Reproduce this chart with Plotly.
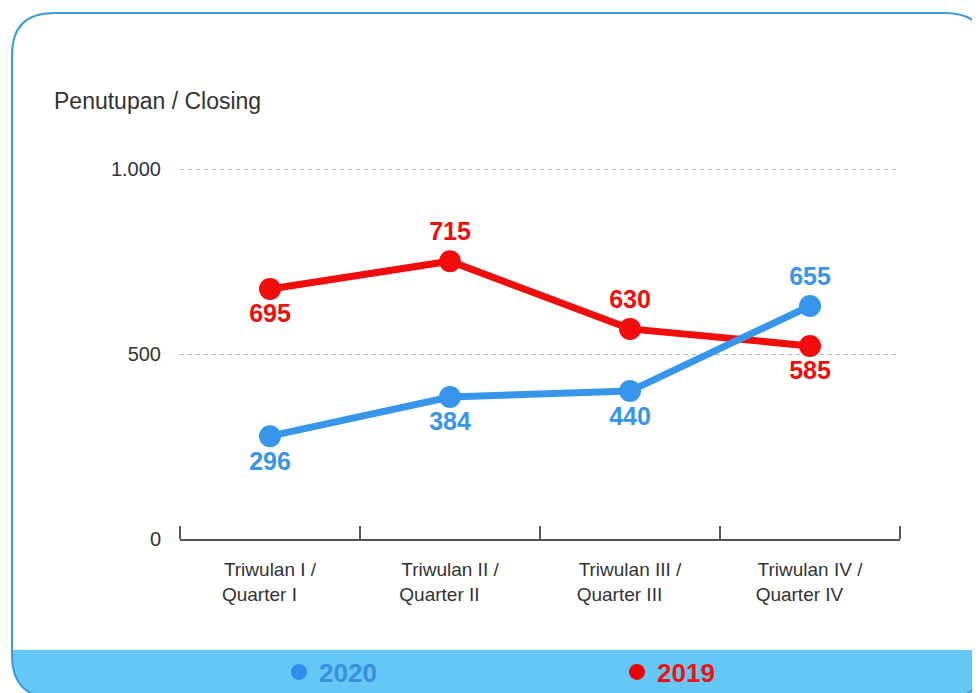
import plotly.graph_objects as go

# ---- data ----
categories = ["Triwulan I /<br>Quarter I", "Triwulan II /<br>Quarter II",
              "Triwulan III /<br>Quarter III", "Triwulan IV /<br>Quarter IV"]
tick_text = ["Triwulan I /<br>Quarter I\u00a0\u00a0\u00a0\u00a0",
             "Triwulan II /<br>Quarter II\u00a0\u00a0\u00a0\u00a0",
             "Triwulan III /<br>Quarter III\u00a0\u00a0\u00a0\u00a0",
             "Triwulan IV /<br>Quarter IV\u00a0\u00a0\u00a0\u00a0"]
# plotted positions
values_2019 = [676, 751, 568, 522]
values_2020 = [278, 384, 400, 630]
# printed data labels
labels_2019 = ["695", "715", "630", "585"]
labels_2020 = ["296", "384", "440", "655"]
pos_2019 = ["bottom center", "top center", "top center", "bottom center"]
pos_2020 = ["bottom center", "bottom center", "bottom center", "top center"]
y_tickvals = [0, 500, 1000]
y_ticktext = ["0", "500", "1.000"]
boundary_ticks = [-0.5, 0.5, 1.5, 2.5, 3.5]

RED = "#f20d0d"
BLUE = "#3896ea"
FONT = "Arial, Liberation Sans, sans-serif"

OFF = 8  # page body margin offset
W, H = 980, 693
# plot area in screen pixels: x 180..900, y 168..539
L = 180 - OFF
T = 168 - OFF
R = W - (900 - OFF)
B = H - (539 - OFF)
PW, PH = W - L - R, H - T - B


def px(x):
    return (x - OFF - L) / PW


def py(y):
    return (H - B - (y - OFF)) / PH


fig = go.Figure()

# empty helper trace so the boundary-tick axis is drawn
fig.add_trace(go.Scatter(x=[None], y=[None], xaxis="x2", yaxis="y",
                         mode="markers", showlegend=False, hoverinfo="skip"))

fig.add_trace(go.Scatter(
    x=categories, y=values_2019, mode="lines+markers+text", name="2019",
    line=dict(color=RED, width=7), marker=dict(size=22, color=RED),
    text=labels_2019, textposition=pos_2019,
    textfont=dict(family=FONT, size=25, color=RED, weight="bold"),
    showlegend=False, cliponaxis=False))

fig.add_trace(go.Scatter(
    x=categories, y=values_2020, mode="lines+markers+text", name="2020",
    line=dict(color=BLUE, width=7), marker=dict(size=22, color=BLUE),
    text=labels_2020, textposition=pos_2020,
    textfont=dict(family=FONT, size=25, color=BLUE, weight="bold"),
    showlegend=False, cliponaxis=False))

# legend-only entries
fig.add_trace(go.Scatter(
    x=[None], y=[None], mode="markers",
    name="<span style='color:#3b8ee0'>2020</span>",
    marker=dict(size=22, color="#2f8ff0")))
fig.add_trace(go.Scatter(
    x=[None], y=[None], mode="markers",
    name="<span style='color:#ee1111'>2019</span>",
    marker=dict(size=22, color="#f00000")))

# frame and footer
footer = (f"M {px(12)},{py(650)} L {px(987)},{py(650)} L {px(987)},{py(655)} "
          f"Q {px(987)},{py(698)} {px(944)},{py(698)} L {px(55)},{py(698)} "
          f"Q {px(12)},{py(698)} {px(12)},{py(655)} Z")
frame = (f"M {px(55)},{py(698)} Q {px(12)},{py(698)} {px(12)},{py(655)} "
         f"L {px(12)},{py(55)} Q {px(12)},{py(13)} {px(54)},{py(13)} "
         f"L {px(945)},{py(13)} Q {px(987)},{py(13)} {px(987)},{py(55)} "
         f"L {px(987)},{py(655)} Q {px(987)},{py(698)} {px(944)},{py(698)}")
fig.update_layout(shapes=[
    dict(type="path", path=footer, xref="paper", yref="paper",
         fillcolor="#64c7f6", line=dict(width=0), layer="below"),
    dict(type="path", path=frame, xref="paper", yref="paper",
         line=dict(color="#3d9dd3", width=2), layer="below"),
])

fig.add_annotation(text="Penutupan / Closing", xref="paper", yref="paper",
                   x=px(52), y=py(101), xanchor="left", yanchor="middle",
                   showarrow=False, font=dict(family=FONT, size=23, color="#333333"))

fig.update_layout(
    xaxis=dict(type="category", range=[-0.5, 3.5], tickmode="array",
               tickvals=categories, ticktext=tick_text, ticks="",
               ticklabelstandoff=12,
               showline=True, linecolor="#555555", linewidth=2, showgrid=False,
               tickfont=dict(family=FONT, size=19, color="#333333"),
               fixedrange=True),
    xaxis2=dict(overlaying="x", anchor="free", position=0, side="top",
                type="linear", range=[-0.5, 3.5],
                tickmode="array", tickvals=boundary_ticks, ticks="outside",
                ticklen=13, tickwidth=1.5, tickcolor="#555555",
                showticklabels=False, showline=False, showgrid=False,
                zeroline=False, fixedrange=True),
    yaxis=dict(range=[0, 1003], tickmode="array", tickvals=y_tickvals,
               ticktext=y_ticktext, showgrid=True, gridcolor="#b8b8b8",
               griddash="4px,4px", gridwidth=1, zeroline=False, showline=False,
               ticks="", ticklabelstandoff=18,
               tickfont=dict(family=FONT, size=20, color="#333333"),
               fixedrange=True),
)

fig.update_layout(
    width=W, height=H, margin=dict(l=L, r=R, t=T, b=B),
    paper_bgcolor="white", plot_bgcolor="rgba(0,0,0,0)",
    font=dict(family=FONT),
    legend=dict(orientation="h", xref="container", yref="container",
                x=(276 + 3 - OFF) / W, y=1 - (672 - OFF) / H,
                xanchor="left", yanchor="middle",
                entrywidth=293, entrywidthmode="pixels",
                font=dict(family=FONT, size=26, weight="bold"),
                bgcolor="rgba(0,0,0,0)", itemclick=False),
)

fig.write_html("out.html")
